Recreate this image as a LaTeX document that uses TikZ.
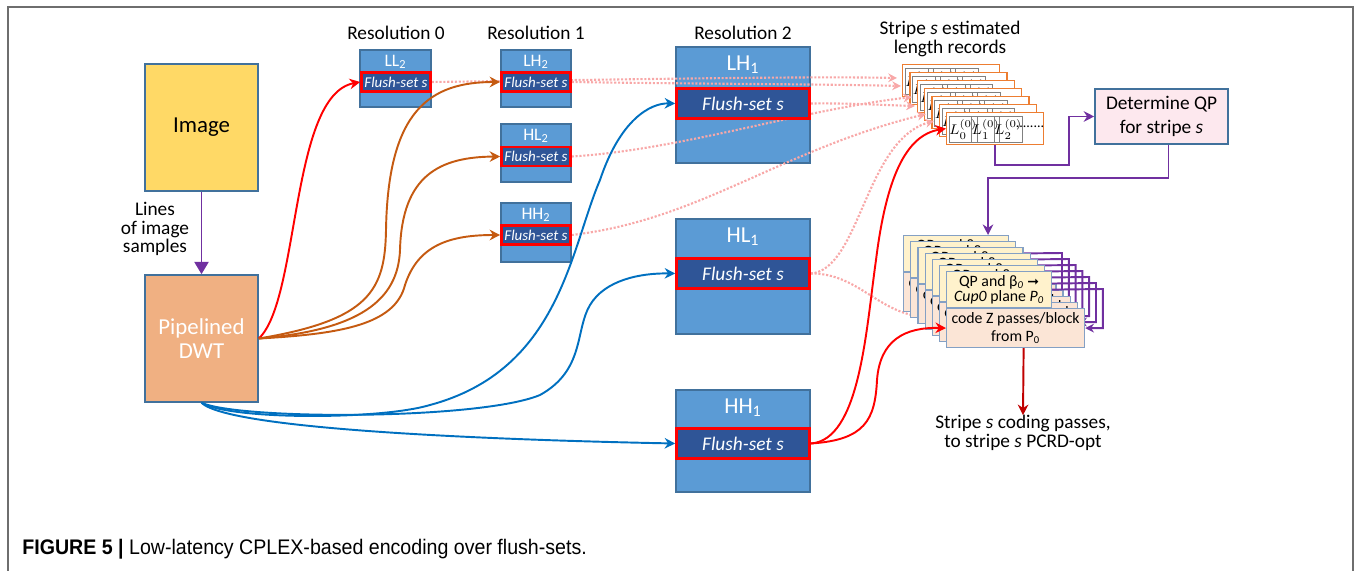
\documentclass[tikz,border=0pt]{standalone}
\usepackage{amsmath}
\usepackage{fontspec}
\setmainfont{Carlito}
\newfontfamily\capfont{Liberation Sans}[FakeStretch=0.93]
\newfontfamily\dejavu{DejaVu Sans}
\usetikzlibrary{arrows.meta,positioning,calc}
\definecolor{cBand}{RGB}{91,155,213}
\definecolor{cBorder}{RGB}{65,113,156}
\definecolor{cFlush}{RGB}{47,85,151}
\definecolor{cImage}{RGB}{255,217,102}
\definecolor{cDWT}{RGB}{240,176,130}
\definecolor{cRec}{RGB}{237,125,49}
\definecolor{cQP}{RGB}{253,232,238}
\definecolor{cCodeY}{RGB}{255,242,204}
\definecolor{cCodeS}{RGB}{251,229,214}
\definecolor{cCard}{RGB}{132,160,196}
\definecolor{cPurple}{RGB}{112,48,160}
\definecolor{cOrange}{RGB}{197,90,17}
\definecolor{cBlue}{RGB}{0,112,192}
\definecolor{cDot}{RGB}{248,168,168}
\definecolor{cDark}{RGB}{192,0,0}
\definecolor{cFrame}{RGB}{110,110,110}
\newcommand\fsz[2]{\fontsize{#1}{#2}\selectfont}

\begin{document}
\begin{tikzpicture}[x=0.02cm,y=-0.02cm,
  band/.style={draw=cBorder,fill=cBand,line width=0.8pt,inner sep=0pt},
  bandlbl/.style={text=white,inner sep=0pt},
  flush/.style={draw=red,fill=cFlush,line width=1.5pt,text=white,inner sep=0pt},
  srcbox/.style={draw=cBorder,line width=0.9pt,minimum width=2.26cm,minimum height=2.54cm,inner sep=0pt,align=center},
  record/.style={draw=cRec,fill=white,line width=0.7pt,minimum width=1.94cm,minimum height=0.64cm,inner sep=0pt},
  cell/.style={draw=gray,line width=0.5pt,minimum width=0.45cm,minimum height=0.52cm,inner sep=0pt,font=\fsz{8}{8}},
  cardY/.style={draw=cCard,fill=cCodeY,line width=0.7pt,minimum width=2.1cm,minimum height=0.72cm,inner sep=0pt,align=center,font=\fsz{9}{8.5}},
  cardS/.style={draw=cCard,fill=cCodeS,line width=0.7pt,minimum width=2.76cm,minimum height=0.78cm,inner sep=0pt,align=center,font=\fsz{9}{10.5}},
  lbl/.style={inner sep=0pt,align=center,font=\fsz{11}{10.5}},
  redarrow/.style={red,line width=1.1pt,-{Stealth[length=6pt,width=6pt]}},
  orgarrow/.style={cOrange,line width=1.1pt,-{Stealth[length=6pt,width=6pt]}},
  bluearrow/.style={cBlue,line width=1.1pt,-{Stealth[length=6pt,width=6pt]}},
  purp/.style={cPurple,line width=1.1pt},
  dotarrow/.style={cDot,line width=1.2pt,densely dotted,-{Stealth[length=5pt,width=5pt]}}]
\useasboundingbox (0,0) rectangle (1356,571);
% Frame
\draw[cFrame,line width=1pt] (8,571) -- (8,7) -- (1353,7) -- (1353,571);

% Source and transform
\node[srcbox,fill=cImage,font=\fsz{13}{14}] (img) at (201.5,127.5) {Image};
\node[srcbox,fill=cDWT,text=white,font=\fsz{13}{14}] (dwt) at (201.5,338.5) {Pipelined\\DWT};
\draw[purp,-{Triangle[length=7pt,width=8pt]}] (img.south) -- (dwt.north);
\node[lbl] (lines) at (155,229) {Lines\\of image\\samples};

% Resolution headings
\node[lbl] (res0) at (396,33) {Resolution 0};
\node[lbl] (res1) at (536,33) {Resolution 1};
\node[lbl] (res2) at (743,33) {Resolution 2};

% Subband boxes
\node[band,minimum width=1.42cm,minimum height=1.14cm] (ll2) at (395.5,78.5) {};
\node[band,minimum width=1.40cm,minimum height=1.14cm] (lh2) at (536,78.5) {};
\node[band,minimum width=1.40cm,minimum height=1.16cm] (hl2) at (536,153) {};
\node[band,minimum width=1.40cm,minimum height=1.18cm] (hh2) at (536,232.5) {};
\foreach \b/\t in {ll2/LL,lh2/LH,hl2/HL,hh2/HH}{
  \node[bandlbl,font=\fsz{10}{11},below=3pt of \b.north] (\b l) {\t\textsubscript{2}};
}
\node[band,minimum width=2.68cm,minimum height=2.32cm] (lh1) at (743,105) {};
\node[band,minimum width=2.68cm,minimum height=2.30cm] (hl1) at (743,276.5) {};
\node[band,minimum width=2.68cm,minimum height=2.04cm] (hh1) at (743,441) {};
\foreach \b/\t in {lh1/LH,hl1/HL,hh1/HH}{
  \node[bandlbl,font=\fsz{13}{14},below=5pt of \b.north] (\b l) {\t\textsubscript{1}};
}

% Length records
\node[lbl] (rech) at (950,39) {Stripe \textit{s} estimated\\length records};
\foreach \k in {0,...,6}{
  \pgfmathsetmacro\rx{902+7.33*\k}
  \pgfmathsetmacro\ry{64+8*\k}
  \node[record,anchor=north west] (rec\k) at (\rx,\ry) {};
  \node[cell,anchor=north west] (ca\k) at (\rx+3,\ry+4) {$L_0^{(0)}$};
  \node[cell,anchor=north west] (cb\k) at (\rx+25.5,\ry+4) {$L_1^{(0)}$};
  \node[cell,anchor=north west] (cc\k) at (\rx+48,\ry+4) {$L_2^{(0)}$};
}
\node[inner sep=0pt,font=\fsz{8}{8}] (dots) at (1030,127) {........};

% Flush-sets to records and coders
\coordinate (r1) at (897,78);
\coordinate (r2) at (901,86);
\coordinate (r3) at (912,97);
\coordinate (r4) at (915,106);
\coordinate (r5) at (926,114);
\coordinate (r6) at (934,121);
\coordinate (k1) at (935,317);
\draw[dotarrow] (ll2.east |- 0,82) .. controls (600,80) and (800,76) .. (r1);
\draw[dotarrow] (lh2.east |- 0,82) .. controls (700,84) and (820,84) .. (r2);
\draw[dotarrow] (hl2.east |- 0,156.5) .. controls (680,150) and (800,110) .. (r3);
\draw[dotarrow] (lh1.east |- 0,103.5) .. controls (850,103) and (880,105) .. (r4);
\draw[dotarrow] (hh2.east |- 0,235) .. controls (700,220) and (780,150) .. (r5);
\draw[dotarrow] (hl1.east |- 0,273.5) .. controls (860,270) and (865,140) .. (r6);
\draw[dotarrow] (hl1.east |- 0,273.5) .. controls (860,273) and (880,317) .. (k1);

% Flush-set strips
\node[flush,minimum width=1.38cm,minimum height=0.38cm,font=\fsz{8.5}{9}\itshape] (ll2s) at (396,82) {Flush-set s};
\node[flush,minimum width=1.38cm,minimum height=0.38cm,font=\fsz{8.5}{9}\itshape] (lh2s) at (536,82) {Flush-set s};
\node[flush,minimum width=1.38cm,minimum height=0.38cm,font=\fsz{8.5}{9}\itshape] (hl2s) at (536,156.5) {Flush-set s};
\node[flush,minimum width=1.38cm,minimum height=0.38cm,font=\fsz{8.5}{9}\itshape] (hh2s) at (536,235) {Flush-set s};
\node[flush,minimum width=2.66cm,minimum height=0.6cm,font=\fsz{11}{12}\itshape] (lh1s) at (743,103.5) {Flush-set s};
\node[flush,minimum width=2.66cm,minimum height=0.6cm,font=\fsz{11}{12}\itshape] (hl1s) at (743,273.5) {Flush-set s};
\node[flush,minimum width=2.66cm,minimum height=0.6cm,font=\fsz{11}{12}\itshape] (hh1s) at (743,443.5) {Flush-set s};

% Determine QP
\node[draw=cBorder,fill=cQP,line width=0.9pt,minimum width=2.66cm,minimum height=1.1cm,inner sep=0pt,align=center,font=\fsz{11}{13.5}] (qp) at (1161.5,116.5) {Determine QP\\for stripe \textit{s}};
\draw[purp,-{Stealth[length=6pt,width=6pt]}] (rec6.south) |- (1069,165) |- (qp.west);

% Coding passes
\foreach \k in {0,...,6}{
  \pgfmathsetmacro\cx{903+7.17*\k}
  \pgfmathsetmacro\cy{235+6*\k}
  \pgfmathsetmacro\vx{1062+6.8*\k}
  \node[cardY,anchor=north west] (cy\k) at (\cx,\cy) {QP and β\textsubscript{\textit{0}} {\dejavu\fsz{8}{8}➞}\\\textit{Cup0} plane \textit{P\textsubscript{0}}};
  \node[cardS,anchor=north west] (cs\k) at (\cx,\cy+37) {code Z passes/block\\from P\textsubscript{0}};
  \draw[purp,-{Stealth[length=5pt,width=5pt]}] (cy\k.east) -- (\vx,\cy+18) |- (cs\k.east);
}
\coordinate (qpin) at (988,235);
\draw[purp,-{Stealth[length=6pt,width=6pt]}] ($(qp.south)+(7,0)$) |- (988,178) -- (qpin);
\node[lbl] (out) at (1023,433) {Stripe \textit{s} coding passes,\\to stripe \textit{s} PCRD-opt};
\draw[cDark,line width=1.1pt,-{Stealth[length=6pt,width=6pt]}] ($(cs6.south)+(8,0)$) -- (out.north);

% DWT to subbands
\draw[redarrow] (dwt.east) .. controls (300,300) and (290,95) .. (ll2s.west);
\draw[orgarrow] (dwt.east) .. controls (370,320) and (385,290) .. (386,230) .. controls (388,110) and (430,82) .. (lh2s.west);
\draw[orgarrow] (dwt.east) .. controls (360,330) and (398,300) .. (400,250) .. controls (402,175) and (440,157) .. (hl2s.west);
\draw[orgarrow] (dwt.east) .. controls (340,334) and (395,325) .. (405,285) .. controls (418,245) and (450,235) .. (hh2s.west);
\draw[bluearrow] (dwt.south) .. controls (230,420) and (380,420) .. (430,405) .. controls (560,370) and (570,250) .. (600,180) .. controls (620,120) and (650,103) .. (lh1s.west);
\draw[bluearrow] (dwt.south) .. controls (240,420) and (480,420) .. (540,395) .. controls (585,370) and (575,330) .. (590,305) .. controls (605,280) and (640,273) .. (hl1s.west);
\draw[bluearrow] (dwt.south) .. controls (230,430) and (500,440) .. (hh1s.west);
\draw[redarrow] (hh1s.east) .. controls (860,440) and (866,330) .. (876,260) .. controls (886,180) and (905,135) .. (rec6.west);
\draw[redarrow] (hh1s.east) .. controls (865,440) and (875,420) .. (877,380) .. controls (880,340) and (905,327) .. (cs6.west);

% Caption
\node[anchor=west,inner sep=0pt,font=\capfont\fsz{12}{13}] (cap) at (22,549) {\textbf{FIGURE 5 |} Low-latency CPLEX-based encoding over flush-sets.};
\end{tikzpicture}
\end{document}
